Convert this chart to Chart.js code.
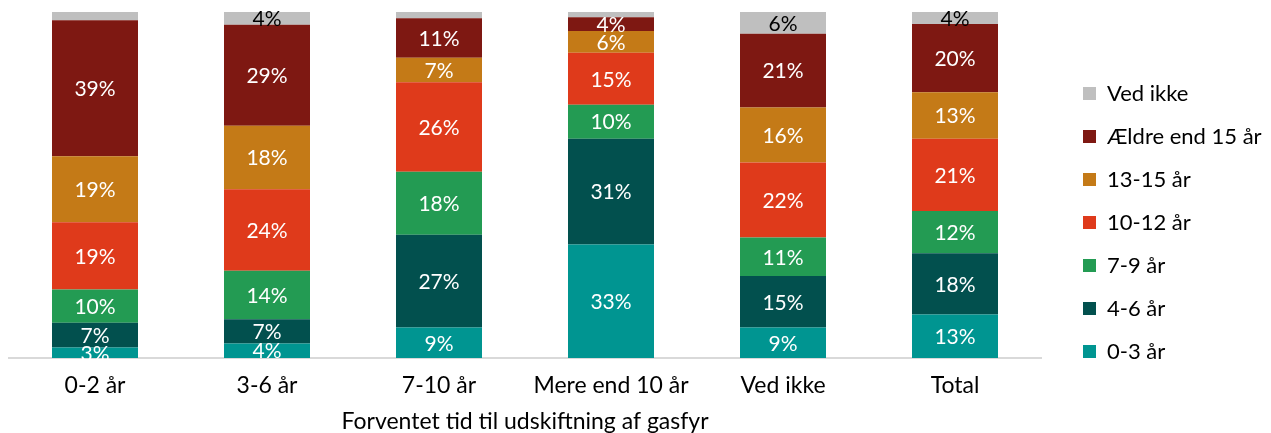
<!DOCTYPE html>
<html>
<head>
<meta charset="utf-8">
<script src="https://cdn.jsdelivr.net/npm/chart.js@4/dist/chart.umd.min.js"></script>
<style>
  html, body { margin: 0; padding: 0; background: #fff; }
  #wrap { width: 1271px; height: 433px; position: relative; }
</style>
</head>
<body>
<div id="wrap"><canvas id="gasfyr"></canvas></div>
<script>
// kategorier paa x-aksen
const categories = ['0-2 år', '3-6 år', '7-10 år', 'Mere end 10 år', 'Ved ikke', 'Total'];

// andele i procent, en raekke pr. alder (nederst til overst)
const alder0_3   = [3.0, 4.2, 8.8, 32.8, 8.8, 12.6];
const alder4_6   = [7.2, 7.0, 26.8, 30.6, 14.9, 17.7];
const alder7_9   = [9.6, 14.0, 18.2, 9.8, 11.1, 12.2];
const alder10_12 = [19.4, 23.6, 25.9, 15.0, 21.7, 20.9];
const alder13_15 = [19.1, 18.3, 7.1, 6.3, 15.9, 13.4];
const aeldre15   = [39.3, 29.2, 11.4, 4.0, 21.3, 19.7];
const vedIkke    = [2.4, 3.7, 1.8, 1.5, 6.3, 3.5];

const FONT = 'Lato';
const LEGEND_W = 230;   // fast bredde til legenden
const LEGEND_SHIFT = 21;

// skriver procenttal midt i hver boks
const pctLabels = {
  id: 'pctLabels',
  afterDatasetsDraw(chart) {
    const ctx = chart.ctx;
    ctx.save();
    ctx.font = '21px ' + FONT;
    ctx.textAlign = 'center';
    ctx.textBaseline = 'middle';
    chart.data.datasets.forEach((ds, i) => {
      const meta = chart.getDatasetMeta(i);
      meta.data.forEach((bar, j) => {
        const v = ds.data[j];
        if (v < 2.5) return;
        ctx.fillStyle = ds.labelColor || '#fff';
        ctx.fillText(Math.round(v) + '%', bar.x, (bar.y + bar.base) / 2 + 1);
      });
    });
    ctx.restore();
  }
};

// legenden faar fast bredde og rykkes lidt til hoejre
const legendBox = {
  id: 'legendBox',
  beforeLayout(chart) {
    const lg = chart.legend;
    if (lg && !lg._fixed) {
      const fit = lg.fit.bind(lg);
      lg.fit = function () { fit(); this.width = LEGEND_W; };
      lg._fixed = true;
    }
  },
  afterLayout(chart) {
    if (chart.legend) chart.legend.left += LEGEND_SHIFT;
  }
};

const ctx = document.getElementById('gasfyr').getContext('2d');
new Chart(ctx, {
  type: 'bar',
  data: {
    labels: categories,
    datasets: [
      { label: '0-3 år', data: alder0_3, backgroundColor: '#009591' },
      { label: '4-6 år', data: alder4_6, backgroundColor: '#02504E' },
      { label: '7-9 år', data: alder7_9, backgroundColor: '#239B53' },
      { label: '10-12 år', data: alder10_12, backgroundColor: '#DF3A1B' },
      { label: '13-15 år', data: alder13_15, backgroundColor: '#C47A17' },
      { label: 'Ældre end 15 år', data: aeldre15, backgroundColor: '#7E1812' },
      { label: 'Ved ikke', data: vedIkke, backgroundColor: '#BFBFBF', labelColor: '#000' }
    ]
  },
  options: {
    responsive: true,
    maintainAspectRatio: false,
    animation: false,
    layout: { padding: { top: 12, left: 9, right: 0, bottom: 0 } },
    datasets: { bar: { categoryPercentage: 1, barPercentage: 0.5, borderWidth: 0 } },
    scales: {
      x: {
        stacked: true,
        grid: { display: false, drawTicks: false },
        border: { display: true, color: '#D9D9D9', width: 2 },
        ticks: { color: '#000', font: { family: FONT, size: 23, lineHeight: 1 }, padding: 16 },
        title: { display: true, text: 'Forventet tid til udskiftning af gasfyr', color: '#000', font: { family: FONT, size: 23, lineHeight: 1 }, padding: { top: -3, bottom: 0 } }
      },
      y: { stacked: true, min: 0, max: 100, display: false }
    },
    plugins: {
      legend: {
        position: 'right',
        reverse: true,
        labels: { color: '#000', font: { family: FONT, size: 22 }, boxWidth: 13, boxHeight: 13, padding: 21 }
      },
      tooltip: { enabled: false }
    }
  },
  plugins: [pctLabels, legendBox]
});
</script>
</body>
</html>
